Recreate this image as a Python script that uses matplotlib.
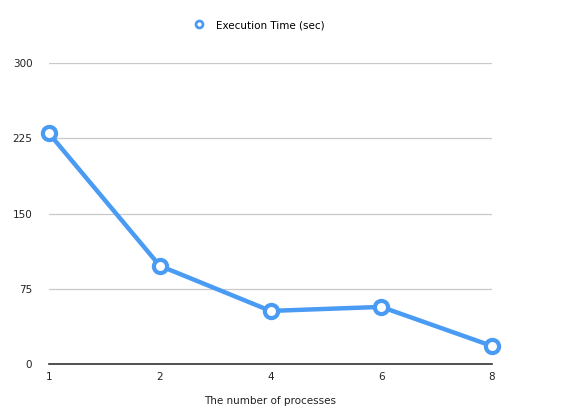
import matplotlib
matplotlib.use("Agg")
import matplotlib.pyplot as plt

procs = ["1", "2", "4", "6", "8"]
exec_time = [230, 98, 53, 57, 18]
yticks = [0, 75, 150, 225, 300]

blue = "#4a9bf3"

fig = plt.figure(figsize=(5.63, 4.18), dpi=100)
ax = fig.add_axes([0.087, 0.129, 0.787, 0.72])

x = range(len(procs))
ax.plot(x, exec_time, color=blue, lw=3.2, marker="o", ms=9.5,
        mfc="white", mec=blue, mew=3, label="Execution Time (sec)",
        solid_joinstyle="round", clip_on=False, zorder=3)

ax.set_xlim(0, len(procs) - 1)
ax.set_ylim(0, 300)
ax.set_xticks(list(x))
ax.set_xticklabels(procs)
ax.set_yticks(yticks)
ax.tick_params(length=0, labelsize=7.5, colors="#222222")
ax.tick_params(axis="x", pad=6)
ax.tick_params(axis="y", pad=12)
ax.grid(axis="y", color="#c8c8c8", lw=0.9)
ax.set_axisbelow(True)
for s in ["top", "right", "left"]:
    ax.spines[s].set_visible(False)
ax.spines["bottom"].set_color("#333333")
ax.spines["bottom"].set_linewidth(1.2)

ax.set_xlabel("The number of processes", fontsize=7.5, color="#222222", labelpad=10)

leg = fig.legend(handles=[plt.Line2D([], [], ls="none", marker="o", ms=5, mfc="white",
                                     mec=blue, mew=2)],
                 labels=["Execution Time (sec)"], loc="center", bbox_to_anchor=(0.456, 0.94),
                 frameon=False, fontsize=7.5, handletextpad=0.6)

fig.savefig("out.png", dpi=100)
